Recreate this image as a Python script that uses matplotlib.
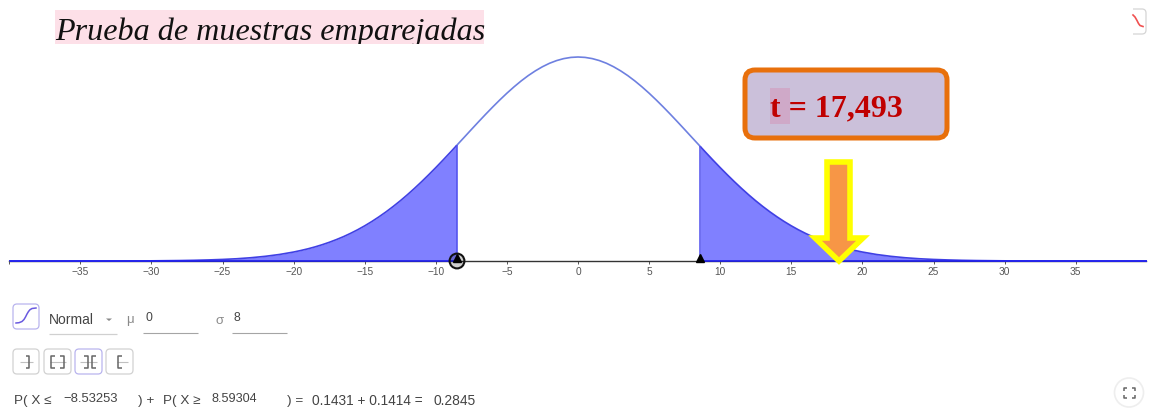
import matplotlib
matplotlib.use("Agg")
import matplotlib.pyplot as plt
from matplotlib.patches import FancyBboxPatch, Polygon, Rectangle, Circle

W, H = 1153, 409

# values
side_x = [.5, 1, 1.5, 2, 2.5, 3, 3.5, 4, 4.5, 5, 5.5, 6, 6.5, 7, 7.5, 8, 8.53253, 9, 9.5, 10, 10.5, 11, 11.5, 12,
          12.5, 13, 13.5, 14, 14.5, 15, 15.5, 16, 16.5, 17, 17.5, 18, 18.5, 19, 19.5, 20,
          21, 22, 23, 24, 25, 26, 27, 28, 30, 32, 35, 40]
side_y = [.04977, .04948, .04900, .04834, .04749, .04648, .04532, .04401, .04257, .04102, .03937, .03764, .03585,
          .03401, .03214, .03025, .02825, .02649, .02464, .02283, .02108, .01938, .01775, .01619,
          .01471, .01332, .01201, .01079, .00965, .00860, .00763, .00675, .00594, .00522, .00456, .00397, .00344,
          .00297, .00256, .00219, .00159, .00114, .00080, .00055, .00038, .00026, .00017, .00011, .00004, .00002, 0, 0]
peak_y = .04987
upper_value = .02802
lower_bound = -8.53253
upper_bound = 8.59304
tick_values = [-35, -30, -25, -20, -15, -10, -5, 0, 5, 10, 15, 20, 25, 30, 35]
title_text = "Prueba de muestras emparejadas"
stat_text = "t = 17,493"
prob_parts = ["P( X ≤", "−8.53253", ") +", "P( X ≥", "8.59304", ") =", "0.1431 + 0.1414 =", "0.2845"]

neg = sorted(zip([-x for x in side_x], side_y))
pos = list(zip(side_x, side_y))
left_x = [p[0] for p in neg if p[0] <= lower_bound]
left_y = [p[1] for p in neg if p[0] <= lower_bound]
right_pts = [(upper_bound, upper_value)] + [p for p in pos if p[0] > upper_bound]
right_x = [p[0] for p in right_pts]
right_y = [p[1] for p in right_pts]
mid_pts = [p for p in neg if p[0] >= lower_bound] + [(0, peak_y)] + [p for p in pos if p[0] < upper_bound] + [right_pts[0]]
mid_x = [p[0] for p in mid_pts]
mid_y = [p[1] for p in mid_pts]

fig = plt.figure(figsize=(W / 100, H / 100), dpi=100, facecolor="white")

# plot region: x 9..1146 px, baseline at y=261, peak at y=57
PX = 14.22
x0 = 578
ax = fig.add_axes([9 / W, 1 - 261 / H, (1146 - 9) / W, (261 - 40) / H])
ax.set_xlim((9 - x0) / PX, (1146 - x0) / PX)
ax.set_ylim(0, peak_y * (261 - 40) / 204)
ax.patch.set_alpha(0)
for s in ("top", "left", "right"):
    ax.spines[s].set_visible(False)
ax.spines["bottom"].set_color("#333333")
ax.spines["bottom"].set_linewidth(1.0)
ax.set_yticks([])
ax.set_xticks(tick_values)
ax.set_xticklabels([str(v).replace("-", "−") for v in tick_values], fontsize=7.3,
                   family="Liberation Sans", color="#555555")
ax.tick_params(axis="x", length=2.5, width=0.7, color="#555555", pad=1.5)

FILL = "#8080ff"
EDGE = "#4040e4"
ax.fill_between(left_x, 0, left_y, color=FILL, lw=0, zorder=2)
ax.fill_between(right_x, 0, right_y, color=FILL, lw=0, zorder=2)
ax.plot(mid_x, mid_y, color="#6e80e0", lw=1.2, zorder=3)
for xs, ys in ((left_x, left_y), (right_x, right_y)):
    ax.plot(xs, ys, color=EDGE, lw=1.2, zorder=3, clip_on=False, solid_capstyle="butt")
    ax.plot(xs, [0] * len(xs), color="#2020f0", lw=1.2, zorder=3, clip_on=False, solid_capstyle="butt")
ax.vlines([lower_bound, upper_bound], 0, [left_y[-1], right_y[0]], color="#5050ee", lw=1.1, zorder=3)
ax.plot([lower_bound, upper_bound], [0.0007, 0.0007], ls="none", marker="^", ms=6,
        color="black", zorder=6, clip_on=False)

# overlay in pixel coordinates for annotations and the controls
ui = fig.add_axes([0, 0, 1, 1], zorder=5)
ui.set_xlim(0, W)
ui.set_ylim(H, 0)
ui.axis("off")
ui.patch.set_alpha(0)

def text(x, y, s, **kw):
    kw.setdefault("family", "Liberation Sans")
    kw.setdefault("va", "center")
    kw.setdefault("color", "#444444")
    return ui.text(x, y, s, **kw)

def button(x, y, w, h, ec="#d2d2d2"):
    ui.add_patch(FancyBboxPatch((x + 2, y + 2), w - 4, h - 4, boxstyle="round,pad=2,rounding_size=4",
                                fc="white", ec=ec, lw=0.9))

def seg(xs, ys, c="#666666", lw=1.1):
    ui.plot(xs, ys, color=c, lw=lw, solid_capstyle="butt")

seg([9, 9], [261, 264], "#555555", 0.7)

# title
ui.add_patch(Rectangle((55, 10), 429, 34, fc="#fde0e8", ec="none"))
clip = Rectangle((0, 0), W, 44, transform=ui.transData)
t = text(55, 40, title_text, family="Liberation Serif", style="italic", fontsize=23.1, color="#111111", va="baseline")
t.set_clip_path(clip)
t.set_clip_on(True)

# statistic box
ui.add_patch(FancyBboxPatch((748, 73), 196, 62, boxstyle="round,pad=3,rounding_size=10",
                            fc="#cbc0da", ec="#e8700c", lw=3.6))
ui.add_patch(Rectangle((770, 88), 20, 36, fc="#cfa9c8", ec="none"))
text(770, 116.5, stat_text, family="Liberation Serif", weight="bold", fontsize=23, color="#c00000", va="baseline")

# arrow
ui.add_patch(Polygon([(827, 162), (850, 162), (850, 238), (863, 238), (839, 261), (815, 238), (827, 238)],
                     closed=True, fc="#f79646", ec="#ffff00", lw=4.0, joinstyle="miter", zorder=4))

# lower marker ring
ui.add_patch(Circle((457, 261), 7.4, fc="#00000030", ec="#111111", lw=1.5, zorder=4))

# controls
button(13, 304, 26, 25, ec="#b9b4ee")
ui.plot([16, 19, 22, 24, 25.5, 27, 28.5, 30, 32, 36], [323, 322.7, 321.5, 319.5, 317, 314, 311.5, 309.7, 308.5, 308],
        color="#6a5ae0", lw=1.1)
text(49, 320, "Normal", fontsize=10)
ui.add_patch(Polygon([(106, 318.5), (112, 318.5), (109, 321)], fc="#888888", ec="none"))
seg([49, 117], [334, 334], "#d0d0d0", 0.9)
text(126, 320.5, "μ", fontsize=9.5, color="#8a8a8a")
text(145, 318, "0", fontsize=8.8)
seg([143, 198], [333, 333], "#a5a5a5", 0.8)
text(215, 320.5, "σ", fontsize=9.5, color="#8a8a8a")
text(234, 318, "8", fontsize=8.8)
seg([232, 287], [333, 333], "#a5a5a5", 0.8)

button(13, 349, 26, 25)
seg([20, 33], [361.5, 361.5], "#c0c0c0", 0.8)
seg([25.5, 29, 29, 25.5], [356, 356, 368, 368])
button(44, 349, 27, 25)
seg([50, 66], [361.5, 361.5], "#c0c0c0", 0.8)
seg([55, 51, 51, 55], [356, 356, 368, 368])
seg([60, 64, 64, 60], [356, 356, 368, 368])
button(75, 349, 27, 25, ec="#b9b4ee")
seg([80, 97], [361.5, 361.5], "#c0c0c0", 0.8)
seg([84, 88, 88, 84], [356, 356, 368, 368])
seg([96, 92, 92, 96], [356, 356, 368, 368])
button(106, 349, 27, 25)
seg([117, 128], [361.5, 361.5], "#c0c0c0", 0.8)
seg([122, 118, 118, 122], [356, 356, 368, 368])

y = 401
text(14, y, prob_parts[0], fontsize=9.7)
text(63, 399, prob_parts[1], fontsize=9.4)
text(138, y, prob_parts[2], fontsize=9.7)
text(163, y, prob_parts[3], fontsize=9.7)
text(212, 399.5, prob_parts[4], fontsize=9.1)
text(287, y, prob_parts[5], fontsize=9.7)
text(312, y, prob_parts[6], fontsize=9.9)
text(433, y, prob_parts[7], fontsize=9.9)

# corner buttons
ui.add_patch(FancyBboxPatch((1120, 11), 24, 21, boxstyle="round,pad=2,rounding_size=4", fc="white", ec="#d5d5d5", lw=0.9))
ui.add_patch(Rectangle((1100, 5), 33, 32, fc="white", ec="none"))
ui.plot([1133, 1135, 1137, 1138.5, 1140, 1143], [15, 17, 20.5, 23.5, 25.5, 26.5], color="#f05050", lw=1.2)
ui.add_patch(Circle((1129, 392.5), 14.5, fc="white", ec="#eeeeee", lw=1.2))
for dx, dy in ((-1, -1), (1, -1), (-1, 1), (1, 1)):
    cx, cy = 1129 + dx * 5.5, 392.5 + dy * 5
    seg([cx, cx, cx - dx * 3], [cy - dy * 3, cy, cy], "#666666", 1.1)

fig.savefig("out.png", dpi=100)
